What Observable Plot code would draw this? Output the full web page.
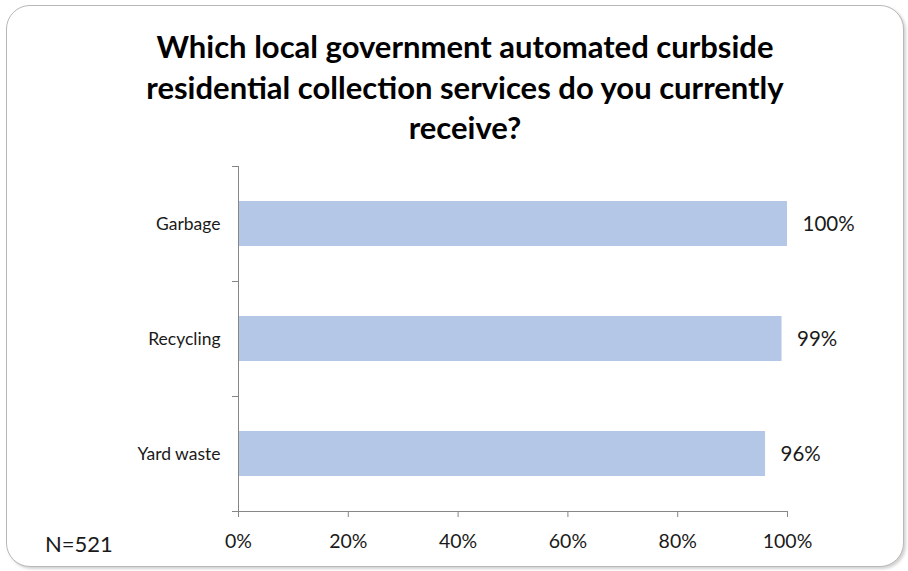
<!DOCTYPE html>
<html>
<head>
<meta charset="utf-8">
<script src="https://cdn.jsdelivr.net/npm/d3@7"></script>
<script src="https://cdn.jsdelivr.net/npm/@observablehq/plot@0.6"></script>
<style>
  html, body { margin: 0; padding: 0; background: #fff; }
  #wrap { position: relative; width: 908px; height: 571px; overflow: hidden; background: #fff; }
  #box { position: absolute; left: 6px; top: 5px; width: 896px; height: 560px; border: 1.5px solid #b8b8b8; border-radius: 24px; box-shadow: 2px 2px 3px rgba(0,0,0,0.18); background: #fff; }
  #title { position: absolute; left: 0; top: 26px; width: 930px; text-align: center; font-family: Lato, "Open Sans", sans-serif; font-weight: bold; font-size: 31px; line-height: 40.5px; color: #000; }
  #chart { position: absolute; left: 0; top: 150px; }
  #note { position: absolute; left: 45px; top: 530px; font-family: Lato, "Open Sans", sans-serif; font-size: 22px; color: #1a1a1a; }
</style>
</head>
<body>
<div id="wrap">
  <div id="box"></div>
  <div id="title">Which local government automated curbside<br>residential collection services do you currently<br>receive?</div>
  <div id="chart"></div>
  <div id="note">N=521</div>
</div>
<script>
const categories = ["Garbage", "Recycling", "Yard waste"];
const values = [100, 99, 96];
const xTicks = [0, 20, 40, 60, 80, 100];
const note = "N=521";

const data = categories.map((c, i) => ({category: c, value: values[i]}));
const axisColor = "#868686";
const font = "Lato, 'Open Sans', sans-serif";

function axisLines(index, scales, values, dimensions) {
  const {width, height, marginLeft, marginRight, marginTop, marginBottom} = dimensions;
  const g = d3.create("svg:g").attr("stroke", axisColor).attr("stroke-width", 1).attr("fill", "none");
  const left = marginLeft, bottom = height - marginBottom, top = marginTop, right = width - marginRight;
  g.append("line").attr("x1", left + 0.5).attr("x2", left + 0.5).attr("y1", top).attr("y2", bottom);
  g.append("line").attr("x1", left).attr("x2", right).attr("y1", bottom + 0.5).attr("y2", bottom + 0.5);
  const n = categories.length;
  const step = (bottom - top) / n;
  for (let k = 0; k <= n; k++) {
    const y = Math.round(top + k * step) + 0.5;
    g.append("line").attr("x1", left - 6).attr("x2", left).attr("y1", y).attr("y2", y);
  }
  return g.node();
}

const chart = Plot.plot({
  width: 908,
  height: 421,
  marginTop: 16,
  marginBottom: 60,
  marginLeft: 238,
  marginRight: 121,
  style: {fontFamily: font, background: "transparent", overflow: "visible"},
  x: {domain: [0, 100]},
  y: {domain: categories, paddingInner: 0.61, paddingOuter: 0.305, align: 0.5},
  marks: [
    Plot.barX(data, {x: "value", y: "category", fill: "#b4c7e7"}),
    Plot.text(data, {x: "value", y: "category", text: d => d.value + "%", textAnchor: "start", dx: 15, fontSize: 20.5, fill: "#1a1a1a"}),
    axisLines,
    Plot.axisX({ticks: xTicks, tickFormat: d => d + "%", tickSize: 6, tickPadding: 17, stroke: axisColor, fontSize: 19.5, color: "#1a1a1a", label: null}),
    Plot.axisY({tickSize: 0, tickPadding: 18, fontSize: 17.5, color: "#1a1a1a", label: null})
  ]
});
document.getElementById("chart").appendChild(chart);
</script>
</body>
</html>
